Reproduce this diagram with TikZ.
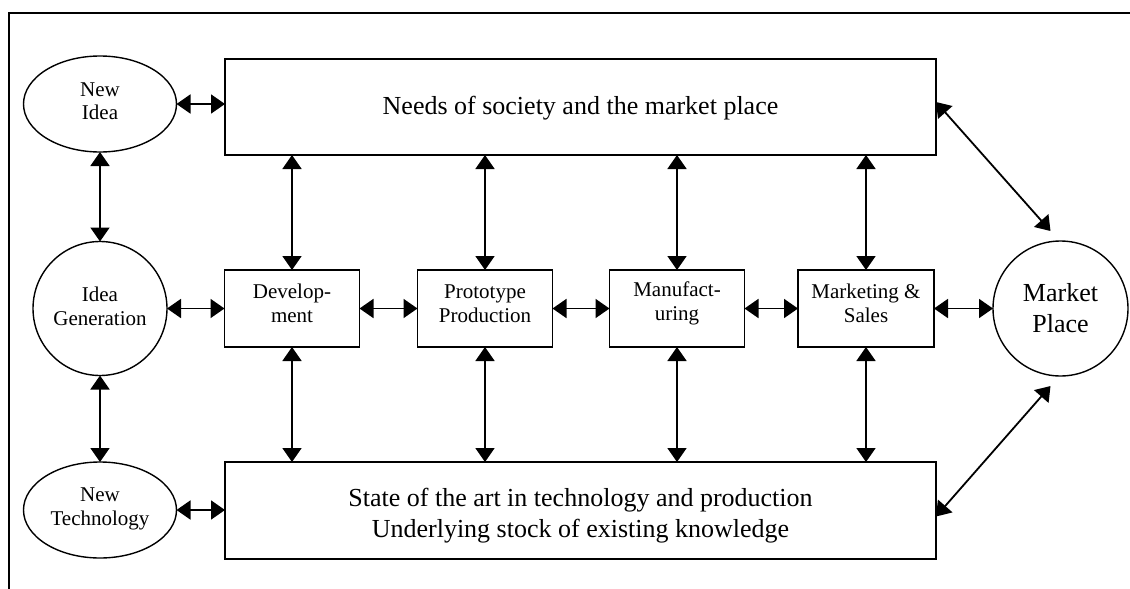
\documentclass[tikz,border=0pt]{standalone}
\usepackage{fontspec}
\setmainfont{Liberation Serif}
\usetikzlibrary{arrows.meta,shapes.geometric,calc}
\begin{document}
\begin{tikzpicture}[x=1pt,y=-1pt,
  every node/.style={inner sep=0pt,outer sep=0pt,align=center},
  small/.style={font=\fontsize{21}{23.5}\selectfont},
  big/.style={font=\fontsize{26}{31}\selectfont},
  bx/.style={draw,line width=1.8pt,rectangle},
  stagebox/.style={bx,minimum width=135pt,minimum height=77pt},
  oval/.style={draw,line width=1.4pt,ellipse,minimum width=153pt,minimum height=96pt},
  rnd/.style={draw,line width=1.4pt,circle,minimum size=134pt},
  txt/.style={small,align=center},
  link/.style={line width=1.8pt,{Triangle[length=14pt,width=19pt]}-{Triangle[length=14pt,width=19pt]}}
]
\useasboundingbox (0,0) rectangle (1130,589);
\draw[line width=1.6pt] (9,589) -- (9,13) -- (1130,13);

\node[oval,label={[txt,yshift=3pt]center:New\\Idea}] (newidea) at (100,104) {};
\node[rnd,label={[txt,yshift=2pt]center:Idea\\Generation}] (ideagen) at (100,308.5) {};
\node[oval,label={[txt,yshift=1pt]center:New\\Technology}] (newtech) at (100,510) {};

\node[bx,minimum width=711pt,minimum height=96pt,label={[big,yshift=-1pt]center:Needs of society and the market place}] (needs) at (580.5,107) {};
\node[bx,minimum width=711pt,minimum height=97pt,label={[big,align=center,yshift=-5pt]center:State of the art in technology and production\\Underlying stock of existing knowledge}] (state) at (580.5,510.5) {};

\node[stagebox,label={[txt,yshift=5pt]center:Develop-\\ment}] (dev) at (292,308.5) {};
\node[stagebox,label={[txt,yshift=5pt]center:Prototype\\Production}] (proto) at (485,308.5) {};
\node[stagebox,label={[txt,yshift=5pt]center:Manufact-\\uring}] (manu) at (677,308.5) {};
\node[stagebox,minimum width=136pt,label={[txt,yshift=5pt]center:Marketing \&\\Sales}] (mark) at (866,308.5) {};

\node[rnd,minimum size=135pt,label={[big,align=center,yshift=0pt]center:Market\\Place}] (market) at (1060.5,308.5) {};

\draw[link] (newidea.east) -- (needs.west |- newidea.east);
\draw[link] (newtech.east) -- (state.west |- newtech.east);
\draw[link] (newidea.south) -- (ideagen.north);
\draw[link] (ideagen.south) -- (newtech.north);
\draw[link] (ideagen.east) -- (dev.west);
\draw[link] (dev.east) -- (proto.west);
\draw[link] (proto.east) -- (manu.west);
\draw[link] (manu.east) -- (mark.west);
\draw[link] (mark.east) -- (market.west);

\foreach \b in {dev,proto,manu,mark}{
  \draw[link] (needs.south -| \b.north) -- (\b.north);
  \draw[link] (\b.south) -- (state.north -| \b.south);
}

\coordinate (mtop) at ($(market.north)+(-10,-10)$);
\coordinate (mbot) at ($(market.south)+(-10,10)$);
\draw[link] ($(needs.east)+(0,-5)$) -- (mtop);
\draw[link] ($(state.east)+(0,6)$) -- (mbot);
\end{tikzpicture}
\end{document}
